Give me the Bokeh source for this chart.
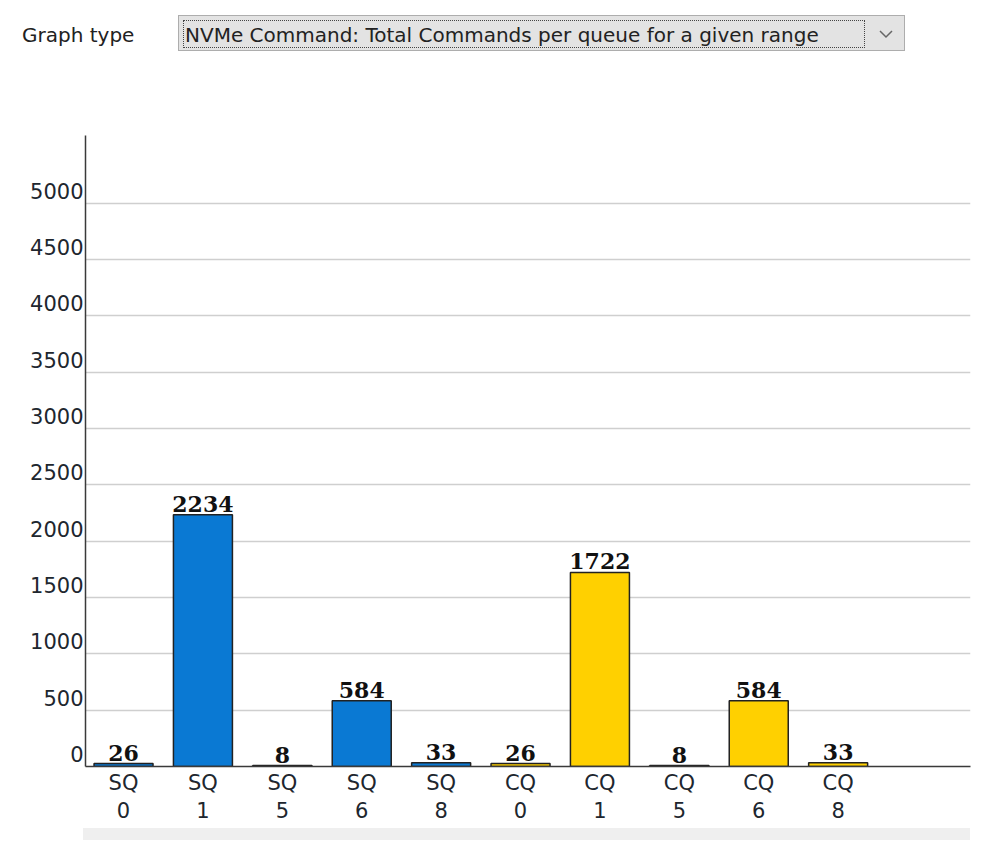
from bokeh.plotting import figure
from bokeh.models import ColumnDataSource, Range1d, FixedTicker, LabelSet, LinearAxis, Div
from bokeh.layouts import column
from bokeh.core.properties import value
from bokeh.embed import file_html
from bokeh.resources import INLINE

# data
queue_types = ["SQ", "SQ", "SQ", "SQ", "SQ", "CQ", "CQ", "CQ", "CQ", "CQ"]
queue_ids = [0, 1, 5, 6, 8, 0, 1, 5, 6, 8]
commands = [26, 2234, 8, 584, 33, 26, 1722, 8, 584, 33]
y_ticks = [0, 500, 1000, 1500, 2000, 2500, 3000, 3500, 4000, 4500, 5000]
graph_type = "NVMe Command: Total Commands per queue for a given range"

SQ_COLOR = "#0a79d3"
CQ_COLOR = "#ffd000"
TEXT = "#20262e"
W = 985
Y_MAX = 5600
LABEL_SHIFT = 111  # tick labels sit just above their grid line

# header with the "Graph type" selector (plain html, not a plot)
header_html = f"""
<div style="position:relative;width:{W}px;height:100px;font-family:'DejaVu Sans';font-size:20px;color:#222;">
  <div style="position:absolute;left:22px;top:22px;line-height:26px;">Graph type</div>
  <div style="position:absolute;left:178px;top:15px;width:727px;height:36px;background:#e3e3e3;border:1px solid #adadad;"></div>
  <div style="position:absolute;left:183px;top:20px;width:682px;height:28px;border:1px dotted #444;"></div>
  <div style="position:absolute;left:185px;top:22px;line-height:26px;white-space:nowrap;">{graph_type}</div>
  <svg style="position:absolute;left:878px;top:28px;" width="16" height="12">
    <polyline points="2,3 8,9 14,3" fill="none" stroke="#666" stroke-width="1.5"/>
  </svg>
</div>
"""
hdr = Div(text=header_html, width=W, height=100, margin=0)

# main bar chart
xs = list(range(len(commands)))
colors = [SQ_COLOR if t == "SQ" else CQ_COLOR for t in queue_types]
src = ColumnDataSource(data=dict(x=xs, commands=commands, color=colors,
                                 label=[str(c) for c in commands]))

p = figure(width=W, height=728, x_range=Range1d(-0.479, 10.667), y_range=Range1d(0, Y_MAX),
           toolbar_location=None, tools="", output_backend="svg",
           min_border_left=85, min_border_right=W - 970, min_border_top=35, min_border_bottom=62)
p.outline_line_color = None
p.xgrid.grid_line_color = None
p.ygrid.ticker = FixedTicker(ticks=y_ticks[1:])
p.ygrid.grid_line_color = "#cfcfcf"
p.ygrid.grid_line_width = 1.5
p.yaxis.visible = False

p.vbar(x="x", top="commands", width=0.743, source=src,
       fill_color="color", line_color="#222222", line_width=1.5)

p.xaxis.ticker = FixedTicker(ticks=xs)
p.xaxis.major_label_overrides = {i: f"{t}\n{q}" for i, (t, q) in enumerate(zip(queue_types, queue_ids))}
p.xaxis.major_tick_in = 0
p.xaxis.major_tick_out = 0
p.xaxis.minor_tick_out = 0
p.xaxis.major_label_standoff = 4
p.xaxis.major_label_text_font = "DejaVu Sans"
p.xaxis.major_label_text_font_size = "21px"
p.xaxis.major_label_text_line_height = 1.2
p.xaxis.major_label_text_color = TEXT
p.xaxis.axis_line_color = "#3a3a3a"
p.xaxis.axis_line_width = 1.5

# y axis on a range shifted a little, so each label rides on top of its grid line
p.extra_y_ranges = {"lab": Range1d(-LABEL_SHIFT, Y_MAX - LABEL_SHIFT)}
yax = LinearAxis(y_range_name="lab", ticker=FixedTicker(ticks=y_ticks))
yax.major_tick_in = 0
yax.major_tick_out = 0
yax.minor_tick_out = 0
yax.major_label_standoff = 2
yax.major_label_text_font = "DejaVu Sans"
yax.major_label_text_font_size = "21px"
yax.major_label_text_color = TEXT
yax.axis_line_color = "#3a3a3a"
yax.axis_line_width = 1.5
p.add_layout(yax, "left")

p.add_layout(LabelSet(x="x", y="commands", text="label", source=src, y_offset=3,
                      text_align="center", text_baseline="bottom",
                      text_font=value("DejaVu Serif"), text_font_style="bold",
                      text_font_size="22px", text_color="#111111"))

# scrollbar strip under the chart
strip = Div(text='<div style="position:relative;width:%dpx;height:12px;">'
                 '<div style="position:absolute;left:83px;top:0;width:887px;height:12px;background:#efefef;"></div>'
                 '</div>' % W, width=W, height=12, margin=0)

layout = column(hdr, p, strip)
open("out.html", "w").write(file_html(layout, INLINE))
